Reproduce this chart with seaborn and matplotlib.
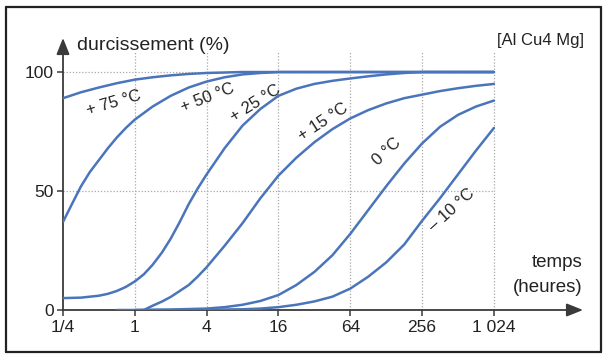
import numpy as np
import pandas as pd
import matplotlib
matplotlib.use("Agg")
import matplotlib.pyplot as plt
from matplotlib.lines import Line2D
import seaborn as sns

# Hardening (%) of Al Cu4 Mg versus ageing time (hours), one curve per temperature
t_p75 = [0.25, 0.354, 0.5, 0.707, 1, 1.41, 2, 2.83, 4, 5.66, 8, 1024]
v_p75 = [89, 91.5, 93.5, 95.3, 96.8, 97.8, 98.6, 99.2, 99.6, 99.8, 100, 100]

t_p50 = [0.25, 0.297, 0.354, 0.42, 0.5, 0.595, 0.707, 0.841, 1, 1.41, 2, 2.83,
         4, 5.66, 8, 11.3, 16, 1024]
v_p50 = [37, 44.5, 52, 58, 63, 68, 72.5, 76.5, 80, 85.5, 90, 93.5,
         96, 97.8, 99, 99.6, 100, 100]

t_p25 = [0.25, 0.354, 0.5, 0.595, 0.707, 0.841, 1, 1.19, 1.41, 1.68, 2, 2.38,
         2.83, 3.36, 4, 4.76, 5.66, 8, 11.3, 16, 22.6, 32, 45.3, 64, 90.5,
         128, 181, 256, 1024]
v_p25 = [5, 5.2, 6, 6.8, 8, 9.7, 12, 15, 19, 24, 30, 37,
         44.5, 51, 57, 62.5, 68, 77.5, 84.5, 90, 93, 95, 96.3, 97.3, 98.2,
         99, 99.6, 100, 100]

t_p15 = [1.19, 1.41, 1.68, 2, 2.38, 2.83, 3.36, 4, 5.66, 8, 11.3, 16, 22.6,
         32, 45.3, 64, 90.5, 128, 181, 256, 362, 512, 724, 1024]
v_p15 = [0, 1.8, 3.5, 5.5, 8, 10.5, 14, 18, 27, 36.5, 47, 56.5, 64,
         70.5, 76, 80.5, 84, 86.8, 89, 90.5, 92, 93.2, 94.2, 95]

t_0 = [0.707, 1, 2, 4, 5.66, 8, 11.3, 16, 22.6, 32, 45.3, 64, 90.5, 128, 181,
       256, 362, 512, 724, 1024]
v_0 = [0, 0, 0.2, 0.6, 1.2, 2.2, 3.8, 6.3, 10.5, 16, 23, 32, 42, 52, 61.5,
       70, 77, 82, 85.5, 88]

t_m10 = [1, 2, 4, 8, 11.3, 16, 22.6, 32, 45.3, 64, 90.5, 128, 181, 256, 362,
         512, 724, 1024]
v_m10 = [0, 0, 0.1, 0.3, 0.6, 1.2, 2.2, 3.6, 5.6, 9, 14, 20, 27.5, 37.5, 47,
         57, 67, 76.5]

series = {
    "+ 75 °C": (t_p75, v_p75),
    "+ 50 °C": (t_p50, v_p50),
    "+ 25 °C": (t_p25, v_p25),
    "+ 15 °C": (t_p15, v_p15),
    "0 °C": (t_0, v_0),
    "– 10 °C": (t_m10, v_m10),
}

x_ticks = [0.25, 1, 4, 16, 64, 256, 1024]
x_ticklabels = ["1/4", "1", "4", "16", "64", "256", "1 024"]
y_ticks = [0, 50, 100]

# Curve labels: (text, time, value, angle)
curve_labels = [
    ("+ 75 °C", 0.67, 87, 16),
    ("+ 50 °C", 4.1, 89, 21),
    ("+ 25 °C", 10.3, 87, 32),
    ("+ 15 °C", 37.8, 79, 33),
    ("0 °C", 130, 66.4, 43),
    ("– 10 °C", 455, 42, 42),
]

df = pd.concat(
    [pd.DataFrame({"temps": t, "durcissement": v, "T": k}) for k, (t, v) in series.items()],
    ignore_index=True,
)

sns.set_theme(style="white")
plt.rcParams["font.family"] = ["Liberation Sans", "DejaVu Sans"]

BLUE = "#4a75ba"
AXC = "#3a3a3a"
GRID = "#a8a8a8"
TXT = "#222222"

fig = plt.figure(figsize=(6.03, 3.54), dpi=100)
fig.patch.set_facecolor("white")
ax = fig.add_axes([63 / 603, 44 / 354, 520 / 603, 272 / 354])
ax.set_facecolor("white")

ax.set_xscale("log", base=2)
ax.set_xlim(0.25, 2 ** 12.48)
ax.set_ylim(0, 114.3)

# dotted grid
ax.vlines(x_ticks[1:], 0, 108.4, colors=GRID, linestyles=(0, (1, 1.5)), lw=0.9, zorder=1)
ax.hlines([50, 100], 0.25, 1024, colors=GRID, linestyles=(0, (1, 1.5)), lw=0.9, zorder=1)

sns.lineplot(data=df, x="temps", y="durcissement", hue="T", units="T",
             palette=[BLUE] * len(series), estimator=None, lw=1.8,
             legend=False, ax=ax, zorder=3)
for ln in ax.get_lines():
    ln.set_solid_joinstyle("round")
    ln.set_solid_capstyle("round")

for s in ax.spines.values():
    s.set_visible(False)

# axes with arrow heads
arrow = dict(arrowstyle="-|>,head_length=0.55,head_width=0.22", color=AXC,
             lw=1.3, mutation_scale=18, shrinkA=0, shrinkB=0)
ax.annotate("", xy=(0, 1), xytext=(0, 0), xycoords="axes fraction",
            arrowprops=arrow, zorder=2, annotation_clip=False)
ax.annotate("", xy=(1, 0), xytext=(0, 0), xycoords="axes fraction",
            arrowprops=arrow, zorder=2, annotation_clip=False)

ax.set_xticks(x_ticks)
ax.set_xticklabels(x_ticklabels)
ax.set_yticks(y_ticks)
ax.set_yticklabels([str(v) for v in y_ticks])
ax.minorticks_off()
ax.tick_params(axis="both", direction="out", length=4.5, width=1.1, color=AXC,
               labelsize=12.5, labelcolor=TXT, pad=2, bottom=True, left=True)
ax.tick_params(axis="x", pad=3)
ax.set_xlabel("")
ax.set_ylabel("")

for txt, t, v, ang in curve_labels:
    ax.text(t, v, txt, rotation=ang, rotation_mode="anchor", ha="center", va="center",
            fontsize=12, color=TXT, zorder=4)

fig.text(77 / 603, 1 - 50 / 354, "durcissement (%)", ha="left", va="baseline",
         fontsize=14, color=TXT)
fig.text(497 / 603, 1 - 45 / 354, "[Al Cu4 Mg]", ha="left", va="baseline",
         fontsize=12, color=TXT)
fig.text(583 / 603, 1 - 267 / 354, "temps", ha="right", va="baseline",
         fontsize=13.5, color=TXT)
fig.text(583 / 603, 1 - 292 / 354, "(heures)", ha="right", va="baseline",
         fontsize=13.5, color=TXT)

# outer frame
fx0, fx1 = 6 / 603, 601 / 603
fy0, fy1 = 1 - 352 / 354, 1 - 7 / 354
for xs, ys in [([fx0, fx1], [fy1, fy1]), ([fx0, fx0], [fy0, fy1]),
               ([fx0, fx1], [fy0, fy0]), ([fx1, fx1], [fy0, fy1])]:
    fig.add_artist(Line2D(xs, ys, transform=fig.transFigure, color=TXT, lw=1.6))

fig.savefig("out.png", dpi=100)
